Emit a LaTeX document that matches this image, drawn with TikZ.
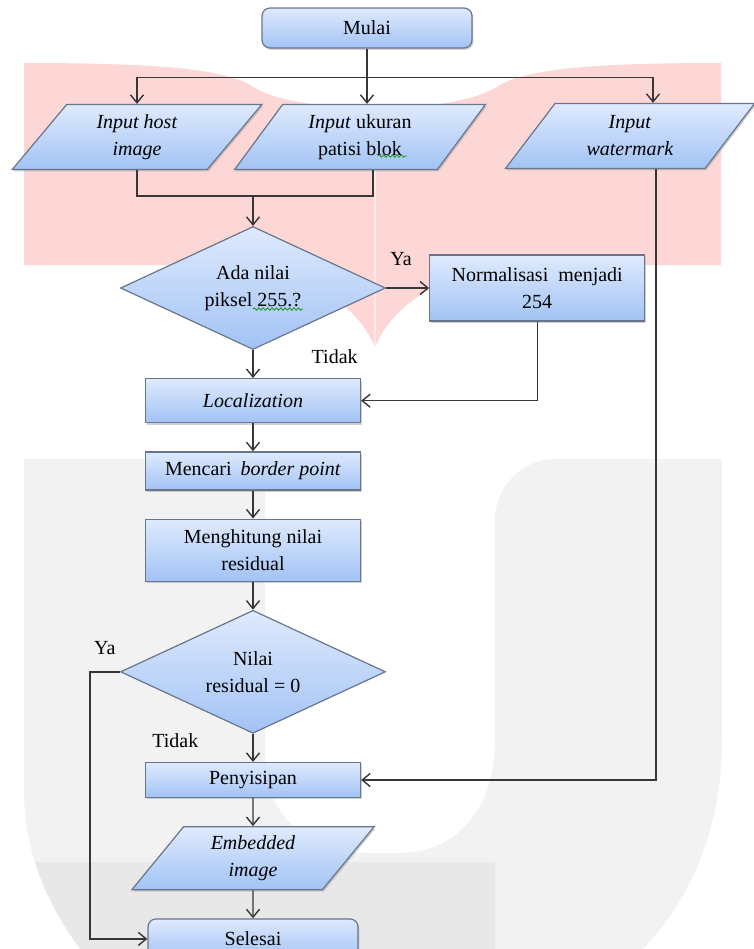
\documentclass[tikz,border=0pt]{standalone}
\usepackage{fontspec}
\setmainfont{Liberation Serif}
\usepackage{xcolor}
\usetikzlibrary{arrows.meta,positioning,shapes.geometric,shadows,decorations.pathmorphing}

\definecolor{boxtop}{RGB}{223,234,253}
\definecolor{boxbot}{RGB}{162,195,245}
\definecolor{boxline}{RGB}{104,118,140}
\definecolor{wireline}{RGB}{55,55,55}
\definecolor{wmpink}{RGB}{253,214,214}
\definecolor{wmgray}{RGB}{242,242,242}
\definecolor{wmdark}{RGB}{232,232,232}
\definecolor{spellgreen}{RGB}{40,150,40}

\begin{document}
\begin{tikzpicture}[
  x=0.5pt, y=-0.5pt,
  boxfill/.style = {draw=boxline, line width=0.6pt, top color=boxtop, bottom color=boxbot,
                  align=center, font=\fontsize{10}{13.5}\selectfont, inner sep=2pt},
  boxbase/.style = {boxfill, drop shadow={shadow xshift=0.7pt, shadow yshift=-0.9pt,
                  fill=black!40, opacity=0.45}},
  term/.style  = {boxbase, rounded corners=4pt, minimum width=105pt, minimum height=20pt},
  proc/.style  = {boxbase, minimum width=107.5pt},
  io/.style    = {boxbase, trapezium, trapezium left angle=57, trapezium right angle=123,
                  trapezium stretches=true, minimum width=125.5pt, minimum height=32.5pt},
  cond/.style  = {boxfill, diamond, aspect=2.15, minimum width=132.5pt,
                  minimum height=61.5pt, inner sep=0pt},
  wire/.style  = {draw=wireline, line width=0.7pt},
  arr/.style   = {wire, -{Straight Barb[length=4pt, width=6.5pt]}},
  lab/.style   = {font=\fontsize{10}{12}\selectfont, inner sep=1pt},
  spell/.style = {spellgreen, line width=0.45pt, decorate,
                  decoration={snake, amplitude=0.6pt, segment length=2.2pt}}
]
\useasboundingbox (0,0) rectangle (754,949);

%% ---- watermark behind the chart -----------------------------------
\fill[wmpink] (24,63) .. controls (150,63) and (220,68) .. (250,85)
  .. controls (280,105) and (340,108) .. (375,108)
  .. controls (410,108) and (470,105) .. (500,85)
  .. controls (530,68) and (600,63) .. (721,63) -- (721,265) -- (530,265)
  .. controls (450,268) and (395,300) .. (375,347)
  .. controls (355,300) and (300,268) .. (220,265) -- (24,265) -- cycle;
\draw[white, line width=1pt, opacity=0.5] (375,108) -- (375,347);
\fill[wmgray, path picture={\fill[wmdark] (24,862) rectangle (495,949);}]
  (24,459) -- (265,459) -- (265,760) .. controls (265,815) and (310,853) .. (365,853)
  -- (400,853) .. controls (455,853) and (495,810) .. (495,740) -- (495,520)
  .. controls (495,487) and (522,459) .. (555,459) -- (722,459) -- (722,740)
  .. controls (722,830) and (690,900) .. (643,949) -- (80,949)
  .. controls (45,900) and (24,850) .. (24,790) -- cycle;

%% ---- start and inputs ---------------------------------------------
\node[term] (mulai) at (367,28) {Mulai};
\node[io] (host)   at (137,137) {\textit{Input host}\\\textit{image}};
\node[io] (ukuran) at (360,137) {\textit{Input} ukuran\\patisi blok};
\node[io] (wm)     at (630,136) {\textit{Input}\\\textit{watermark}};

%% ---- main column --------------------------------------------------
\node[cond] (cek) at (253,288) {Ada nilai\\piksel 255.?};
\node[proc, minimum height=33pt, right=21.5pt of cek] (norm) {Normalisasi\ \ menjadi\\254};

\node[proc, minimum height=22pt, below=14pt of cek]   (local)  {\textit{Localization}};
\node[proc, minimum height=19pt, below=14pt of local] (cari)   {Mencari\hspace{2pt} \textit{border point}};
\node[proc, minimum height=31pt, below=14pt of cari]  (hitung) {Menghitung nilai\\residual};
\node[cond, below=14pt of hitung] (nol) {Nilai\\residual = 0};
\node[proc, minimum height=17.5pt, below=14pt of nol] (sisip)  {Penyisipan};
\node[io, minimum width=122pt, minimum height=31.5pt, below=14pt of sisip] (embed)
  {\textit{Embedded}\\\textit{image}};
\node[term, below=14pt of embed] (selesai) {Selesai};

% spell-check marks
\draw[spell] ([xshift=9pt,yshift=-9.5pt]ukuran.center) -- ([xshift=23.5pt,yshift=-9.5pt]ukuran.center);
\draw[spell] ([xshift=0pt,yshift=-10.5pt]cek.center) -- ([xshift=25pt,yshift=-10.5pt]cek.center);

%% ---- connectors ---------------------------------------------------
\coordinate[below=14.5pt of mulai.south] (split);
\draw[wire] (mulai) -- (split);
\draw[arr] (split) -| (host.north);
\draw[arr] (split) -- (split |- ukuran.north);
\draw[arr] (split) -| ([xshift=11.5pt]wm.north);

\coordinate[above=15pt of cek.north] (join);
\draw[wire] (host.south) |- (join);
\draw[wire] ([xshift=6.5pt]ukuran.south) |- (join);
\draw[arr] (join) -- (cek.north);

\draw[arr] (cek.east) -- node[lab, pos=0.35, above=10pt] {Ya} (norm.west);
\draw[arr] (norm.south) |- (local.east);
\draw[arr] (cek.south) -- node[lab, near start, right=28pt] {Tidak} (local.north);
\draw[arr] (local) -- (cari);
\draw[arr] (cari) -- (hitung);
\draw[arr] (hitung) -- (nol);
\draw[arr] (nol.west) -- node[lab, above=7pt] {Ya} ++(-15pt,0) |- (selesai.west);
\draw[arr] (nol.south) -- node[lab, near start, left=26pt] {Tidak} (sisip.north);
\draw[arr] (sisip) -- (embed);
\draw[arr] (embed) -- (selesai);
\draw[arr] ([xshift=13pt]wm.south) |- (sisip.east);
\end{tikzpicture}
\end{document}
